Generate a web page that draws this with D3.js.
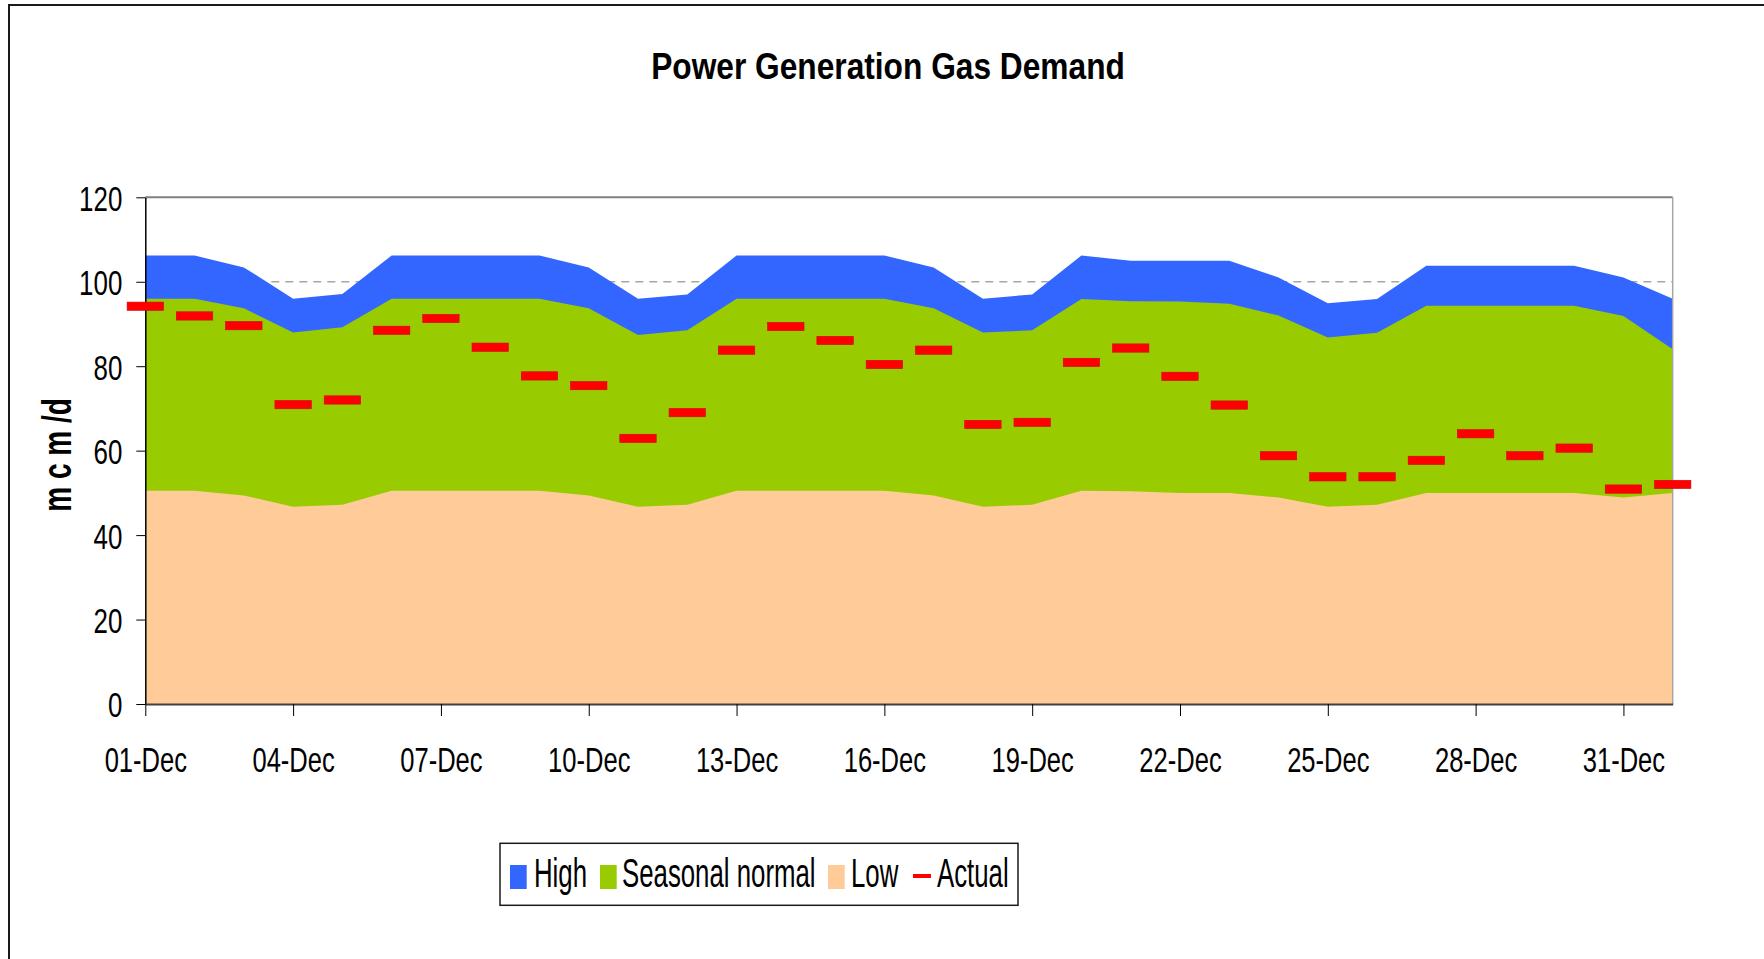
<!DOCTYPE html>
<html>
<head>
<meta charset="utf-8">
<script src="https://cdn.jsdelivr.net/npm/d3@7/dist/d3.min.js"></script>
<style>
  html, body { margin: 0; padding: 0; background: #fff; overflow: hidden; }
  svg { display: block; font-family: 'Liberation Sans', Arial, sans-serif; }
</style>
</head>
<body>
<script>
// ---- data ----
const days = [
  '01-Dec', '02-Dec', '03-Dec', '04-Dec', '05-Dec', '06-Dec', '07-Dec', '08-Dec',
  '09-Dec', '10-Dec', '11-Dec', '12-Dec', '13-Dec', '14-Dec', '15-Dec', '16-Dec',
  '17-Dec', '18-Dec', '19-Dec', '20-Dec', '21-Dec', '22-Dec', '23-Dec', '24-Dec',
  '25-Dec', '26-Dec', '27-Dec', '28-Dec', '29-Dec', '30-Dec', '31-Dec', '01-Jan',
]

const high = [
  106.2, 106.2, 103.4, 96.0, 97.1, 106.2, 106.2, 106.2, 106.2, 103.4, 96.0, 97.0,
  106.2, 106.2, 106.2, 106.2, 103.4, 96.0, 97.0, 106.2, 105.0, 105.0, 105.0, 101.0,
  94.9, 95.9, 103.8, 103.8, 103.8, 103.8, 101.0, 96.0,
]

const normal = [
  96.0, 96.0, 93.7, 88.0, 89.2, 96.0, 96.0, 96.0, 96.0, 93.7, 87.4, 88.5,
  96.0, 96.0, 96.0, 96.0, 93.7, 88.0, 88.5, 95.9, 95.4, 95.3, 94.8, 92.0,
  86.8, 87.9, 94.3, 94.3, 94.3, 94.3, 91.9, 84.0,
]

const low = [
  50.5, 50.5, 49.4, 46.7, 47.2, 50.5, 50.5, 50.5, 50.5, 49.4, 46.7, 47.2,
  50.5, 50.5, 50.5, 50.5, 49.4, 46.7, 47.2, 50.5, 50.4, 50.0, 50.0, 48.9,
  46.7, 47.2, 50.0, 50.0, 50.0, 50.0, 48.9, 50.0,
]

const actual = [
  94.2, 91.9, 89.6, 70.9, 72.0, 88.5, 91.3, 84.5, 77.7, 75.4, 62.9, 69.0,
  83.8, 89.4, 86.1, 80.4, 83.8, 66.2, 66.7, 80.9, 84.3, 77.6, 70.8, 58.8,
  53.8, 53.8, 57.7, 64.0, 58.8, 60.6, 50.9, 52.0,
]

const yTicks = [0, 20, 40, 60, 80, 100, 120]
const xTicks = days.filter((d, i) => i % 3 === 0 && d.endsWith('Dec'))

const seriesNames = ['High', 'Seasonal normal', 'Low', 'Actual']
const seriesColors = ['#3366FF', '#99CC00', '#FFCC99', '#FF0000']

const chartTitle = 'Power Generation Gas Demand'
const yTitle = 'm c m /d'

// ---- layout ----
const W = 1764
const H = 959
const plot = { left: 145.3, right: 1672.7, top: 197.3, bottom: 704 }

const svg = d3.select('body').append('svg')
  .attr('width', W)
  .attr('height', H)

// outer chart frame (runs off the right and bottom of the picture)
svg.append('path')
  .attr('d', `M9,${H + 5} L9,5 L${W + 5},5`)
  .attr('fill', 'none')
  .attr('stroke', '#1a1a1a')
  .attr('stroke-width', 2)

// condensed look: scale text horizontally around its anchor
svg.append('text')
  .attr('transform', 'translate(888,79.3) scale(0.857,1)')
  .attr('text-anchor', 'middle')
  .attr('font-weight', 'bold')
  .attr('font-size', 37)
  .text(chartTitle)

const x = d3.scalePoint()
  .domain(days)
  .range([plot.left, plot.right])

const y = d3.scaleLinear()
  .domain([0, 120])
  .range([plot.bottom, plot.top])

// dashed gridlines sit behind the areas
svg.append('g')
  .selectAll('line')
  .data(yTicks.filter(t => t > 0 && t < 120))
  .join('line')
  .attr('x1', plot.left)
  .attr('x2', plot.right)
  .attr('y1', d => y(d))
  .attr('y2', d => y(d))
  .attr('stroke', '#a6a6a6')
  .attr('stroke-width', 1.3)
  .attr('stroke-dasharray', '8,6')

const makeArea = d3.area()
  .x((d, i) => x(days[i]))
  .y0(y(0))
  .y1(d => y(d))

const bands = [high, normal, low]
svg.append('g')
  .selectAll('path')
  .data(bands)
  .join('path')
  .attr('d', d => makeArea(d))
  .attr('fill', (d, i) => seriesColors[i])

// plot frame: top and right
svg.append('path')
  .attr('d', `M${plot.left},${plot.top} L${plot.right},${plot.top}`)
  .attr('stroke', '#808080')
  .attr('stroke-width', 2)
svg.append('path')
  .attr('d', `M${plot.right},${plot.top} L${plot.right},${plot.bottom}`)
  .attr('stroke', '#a6a6a6')
  .attr('stroke-width', 1.5)

// y axis
const yAxis = svg.append('g')
  .attr('transform', `translate(${plot.left},0)`)
  .call(d3.axisLeft(y).tickValues(yTicks).tickSize(9).tickSizeOuter(0))
yAxis.select('.domain').attr('stroke', '#000').attr('stroke-width', 1.5)
yAxis.selectAll('.tick line').attr('stroke', '#000')
yAxis.selectAll('.tick text')
  .attr('x', null)
  .attr('dy', '0.36em')
  .attr('font-size', 36)
  .attr('font-family', "'Liberation Sans', Arial, sans-serif")
  .attr('fill', '#000')
  .attr('transform', 'translate(-23,0) scale(0.72,1)')

// x axis
const xAxis = svg.append('g')
  .attr('transform', `translate(0,${plot.bottom})`)
  .call(d3.axisBottom(x).tickValues(xTicks).tickSize(12).tickSizeOuter(0))
xAxis.select('.domain').attr('stroke', '#404040').attr('stroke-width', 2)
xAxis.selectAll('.tick line').attr('stroke', '#000')
xAxis.selectAll('.tick text')
  .attr('y', null)
  .attr('dy', null)
  .attr('font-size', 35)
  .attr('font-family', "'Liberation Sans', Arial, sans-serif")
  .attr('fill', '#000')
  .attr('transform', 'translate(0,67.7) scale(0.73,1)')

svg.append('text')
  .attr('transform', 'translate(70.7,455) rotate(-90) scale(0.7,1)')
  .attr('text-anchor', 'middle')
  .attr('font-weight', 'bold')
  .attr('font-size', 40)
  .text(yTitle)

// actual: red dash markers
const dashW = 36.4
const dashH = 8.3
svg.append('g')
  .selectAll('rect')
  .data(actual)
  .join('rect')
  .attr('x', (d, i) => x(days[i]) - dashW / 2)
  .attr('y', d => y(d) - dashH / 2)
  .attr('width', dashW)
  .attr('height', dashH)
  .attr('fill', seriesColors[3])
  .attr('stroke', '#d80000')
  .attr('stroke-width', 0.6)

// legend
const legend = svg.append('g')
legend.append('rect')
  .attr('x', 500)
  .attr('y', 843.3)
  .attr('width', 518)
  .attr('height', 62)
  .attr('fill', '#fff')
  .attr('stroke', '#1a1a1a')
  .attr('stroke-width', 1.5)

const legendPos = [
  { key: 510, text: 534 },
  { key: 600, text: 622 },
  { key: 828, text: 851 },
  { key: 913, text: 937 },
]

seriesNames.forEach((name, i) => {
  const p = legendPos[i]
  if (i < 3) {
    legend.append('rect')
      .attr('x', p.key)
      .attr('y', 865)
      .attr('width', 16.7)
      .attr('height', 24)
      .attr('fill', seriesColors[i])
  } else {
    legend.append('line')
      .attr('x1', p.key)
      .attr('x2', p.key + 18)
      .attr('y1', 876)
      .attr('y2', 876)
      .attr('stroke', seriesColors[i])
      .attr('stroke-width', 4)
  }
  legend.append('text')
    .attr('transform', `translate(${p.text},887.3) scale(0.645,1)`)
    .attr('font-size', 40)
    .text(name)
})
</script>
</body>
</html>
